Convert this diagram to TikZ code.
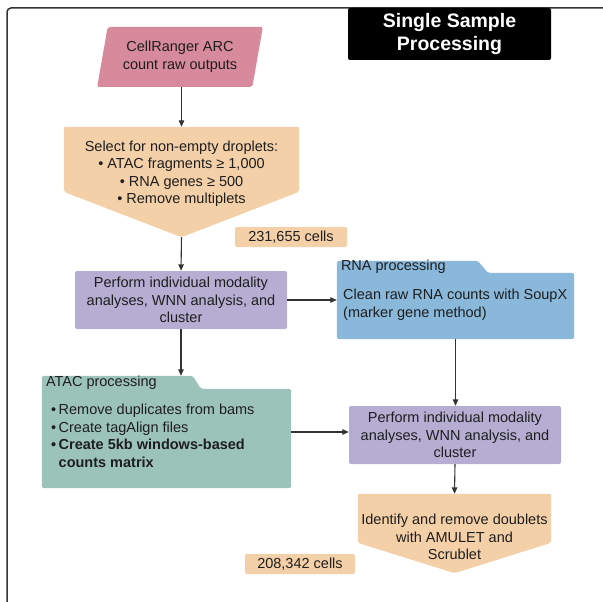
\documentclass[tikz,border=0pt]{standalone}
\usepackage{fontspec}
\setmainfont{Liberation Sans}
\usepackage{xcolor}
\usetikzlibrary{positioning, arrows.meta, calc, shapes.geometric}

\definecolor{rawpink}{HTML}{D78A9B}
\definecolor{peach}{HTML}{F4D0A8}
\definecolor{wnnpurple}{HTML}{B6ADD3}
\definecolor{rnablue}{HTML}{8AB8DA}
\definecolor{atacteal}{HTML}{9CC3BA}
\definecolor{inkgray}{HTML}{1E1E1E}
\definecolor{linegray}{HTML}{333333}

\begin{document}
\begin{tikzpicture}[
        x=1pt, y=-1pt,
        every node/.style={font=\fontsize{14.5}{17.5}\selectfont, text=inkgray},
        box/.style={rectangle, rounded corners=2pt, inner sep=0pt, align=center},
        region/.style={rectangle, inner sep=0pt},
        titlebox/.style={box, fill=black, text=white, font=\fontsize{19.5}{23}\selectfont\bfseries, minimum width=203, minimum height=52},
        stepbox/.style={box, fill=wnnpurple, minimum width=212, minimum height=58},
        cellbox/.style={box, fill=peach, minimum height=20},
        foldertext/.style={inner sep=0pt, align=left},
        arrow/.style={-{Triangle[length=6.5pt, width=5.5pt]}, line width=1.1pt, draw=linegray}
    ]
    \useasboundingbox (0,0) rectangle (603,602);

    \draw[linegray, line width=1.5pt, rounded corners=4pt] (7,602) |- (603,8);
    \node[titlebox] (title) at (449.5,34) {Single Sample\\Processing};

    \node[trapezium, trapezium left angle=75, trapezium right angle=105, trapezium stretches=true,
          fill=rawpink, minimum width=166, minimum height=60, inner sep=0pt, rounded corners=2pt,
          align=center] (raw) at (180,57) {CellRanger ARC\\count raw outputs};

    \node[region, minimum width=235, minimum height=110] (select) at (181.5,182) {};
    \fill[peach, rounded corners=2pt] (select.north west) -- (select.north east) -- ($(select.north east)+(0,65)$)
        -- (select.south) -- ($(select.north west)+(0,65)$) -- cycle;
    \node[box] (selecttext) at ($(select.center)+(0,-8)$) {Select for non-empty droplets:\\ • ATAC fragments ≥ 1,000\\ • RNA genes ≥ 500\\ • Remove multiplets};
    \node[cellbox, minimum width=112] (cellsa) at (291,237) {231,655 cells};

    \node[stepbox] (wnna) at (181,300) {Perform individual modality\\analyses, WNN analysis, and\\cluster};

    \node[region, minimum width=237, minimum height=78] (rna) at (455.5,300) {};
    \fill[rnablue, rounded corners=2.5pt] (rna.south west) -- (rna.north west) -- ($(rna.north west)+(141,0)$)
        -- ($(rna.north west)+(151,12)$) -- ($(rna.north east)+(0,12)$) -- (rna.south east) -- cycle;
    \node[foldertext, anchor=west] (rnatitle) at ($(rna.north west)+(4,6)$) {RNA processing};
    \node[foldertext, anchor=west] (rnasteps) at (343,304.5) {Clean raw RNA counts with SoupX\\(marker gene method)};

    \node[region, minimum width=249, minimum height=112] (atac) at (166.5,432) {};
    \fill[atacteal, rounded corners=2.5pt] (atac.south west) -- (atac.north west) -- ($(atac.north west)+(151,0)$)
        -- ($(atac.north west)+(159,13)$) -- ($(atac.north east)+(0,13)$) -- (atac.south east) -- cycle;
    \node[foldertext, anchor=west] (atactitle) at ($(atac.north west)+(4,7)$) {ATAC processing};
    \node[foldertext, anchor=west] (atacsteps) at (51,436) {•\,Remove duplicates from bams\\•\,Create tagAlign files\\\textbf{•\,Create 5kb windows-based}\\\hphantom{\textbf{•\,}}\textbf{counts matrix}};

    \node[stepbox] (wnnb) at (455,435) {Perform individual modality\\analyses, WNN analysis, and\\cluster};

    \node[region, minimum width=193, minimum height=79] (identify) at (454.5,533.5) {};
    \fill[peach, rounded corners=2pt] (identify.north west) -- (identify.north east) -- ($(identify.north east)+(0,49)$)
        -- (identify.south) -- ($(identify.north west)+(0,49)$) -- cycle;
    \node[box] (identifytext) at ($(identify.center)+(0,3.5)$) {Identify and remove doublets\\with AMULET and\\Scrublet};
    \node[cellbox, minimum width=110] (cellsb) at (300,564) {208,342 cells};

    \draw[arrow] (raw.south -| select.north) -- (select.north);
    \draw[arrow] (select.south) -- (wnna.north);
    \draw[arrow] (wnna.east) -- (wnna.east -| rna.west);
    \draw[arrow] (wnna.south) -- (wnna.south |- atac.north);
    \draw[arrow] (atac.east) -- (atac.east -| wnnb.west);
    \draw[arrow] (rna.south) -- (rna.south |- wnnb.north);
    \draw[arrow] (wnnb.south) -- (identify.north);

\end{tikzpicture}
\end{document}
